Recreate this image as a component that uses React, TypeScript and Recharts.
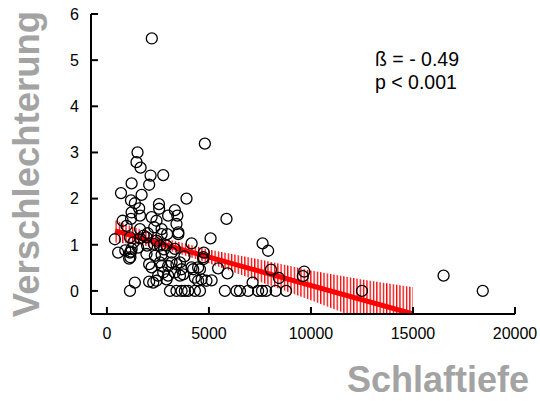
import { ComposedChart, XAxis, YAxis, Scatter, Line, Area } from "recharts";

// Schlaftiefe (x) und Verschlechterung (y), je ein Kreis
const sleepDepth = [
  2200, 4800, 1500, 1450, 1650, 2140, 2760, 2070, 1210, 690, 1700, 3900, 1180, 1370, 1580, 2550,
  2560, 1210, 1620, 2190, 1180, 3330, 3450, 3000, 5860, 770, 960, 2430, 2320, 3410, 2680, 1620,
  3500, 2950, 390, 1130, 1620, 1940, 4150, 5080, 550, 1130, 1210, 1150, 1530, 1970, 2430, 2600,
  2920, 1940, 2350, 2680, 3170, 3330, 2070, 2190, 2680, 3000, 3410, 3660, 4720, 4750, 4470, 4150,
  5450, 5910, 2510, 3000, 3580, 3740, 4310, 4470, 2430, 2070, 2270, 5130, 4880, 1370, 1130, 3090,
  3410, 3660, 3980, 4310, 4560, 5780, 6350, 6520, 6920, 7410, 7600, 7800, 8270, 8780, 7630, 7900,
  8040, 8430, 9670, 9600, 7140, 12500, 18420, 16500, 2680, 3500, 4720, 2600, 3170, 3580, 2760, 3330,
  4230, 4560, 4640, 2920, 3820, 1090, 1180, 1800, 2000, 2300, 2800, 1300, 900, 3800,
];
const worsening = [
  5.47, 3.19, 3.0, 2.79, 2.67, 2.5, 2.51, 2.3, 2.33, 2.12, 2.08, 2.0, 1.96, 1.9, 1.79, 1.88,
  1.78, 1.7, 1.63, 1.6, 1.56, 1.75, 1.63, 1.63, 1.56, 1.52, 1.41, 1.52, 1.38, 1.45, 1.34, 1.34,
  1.27, 1.23, 1.12, 1.16, 1.14, 1.16, 1.03, 1.14, 0.83, 0.83, 0.91, 0.73, 0.94, 0.98, 1.09, 0.98,
  0.98, 0.8, 0.76, 0.78, 0.83, 0.91, 0.58, 0.51, 0.54, 0.54, 0.58, 0.47, 0.73, 0.83, 0.51, 0.51,
  0.49, 0.38, 0.33, 0.33, 0.33, 0.36, 0.29, 0.22, 0.22, 0.2, 0.18, 0.23, 0.22, 0.18, 0, 0,
  0, 0, 0, 0, 0, 0, 0, 0, 0, 0, 0, 0, 0, 0, 1.03, 0.87,
  0.46, 0.28, 0.42, 0.32, 0.18, 0, 0, 0.33, 1.23, 1.23, 0.69, 0.62, 0.62, 0.62, 0.4, 0.4,
  0.47, 0.47, 0.25, 0.25, 0, 0.7, 0.85, 1.2, 1.25, 1.02, 0.9, 1.05, 0.88, 0.75,
];

// Regressionsgerade (Endpunkte) und Konfidenzband
const fitX = [400, 15000];
const fitY = [1.3, -0.5];
const bandX = [400, 1500, 3000, 5000, 7500, 10000, 12500, 15000];
const bandLow = [1.05, 1.01, 0.88, 0.6, 0.2, -0.2, -0.63, -1.08];
const bandHigh = [1.53, 1.35, 1.12, 0.9, 0.68, 0.44, 0.25, 0.08];

const xTicks = [0, 5000, 10000, 15000, 20000];
const yTicks = [0, 1, 2, 3, 4, 5, 6];

const points = sleepDepth.map((x, i) => ({ x, y: worsening[i] }));
const rows = bandX.map((x, i) => {
  const k = fitX.indexOf(x);
  return { x, band: [bandLow[i], bandHigh[i]], fit: k >= 0 ? fitY[k] : null };
});

const FONT = "'Liberation Sans', Arial, sans-serif";

const YTick = (props: any) => {
  const { x, y, payload } = props;
  const ax = x + 12;
  return (
    <g>
      <line x1={ax} x2={ax + 7} y1={y} y2={y} stroke="#000" strokeWidth={2} />
      <text x={x} y={y} dy="0.36em" textAnchor="end" fontSize={16} fontFamily={FONT} fill="#000">
        {payload.value}
      </text>
    </g>
  );
};

const XTick = (props: any) => {
  const { x, y, payload } = props;
  const ay = y - 12;
  return (
    <g>
      <line x1={x} x2={x} y1={ay} y2={ay - 7} stroke="#000" strokeWidth={2} />
      <text x={x} y={y} dy="0.8em" textAnchor="middle" fontSize={16} fontFamily={FONT} fill="#000">
        {payload.value}
      </text>
    </g>
  );
};

const Ring = (props: any) => (
  <circle cx={props.cx} cy={props.cy} r={5.5} fill="none" stroke="#000" strokeWidth={1.3} />
);

export default function App() {
  return (
    <div style={{ position: "absolute", left: 0, top: 0, width: 540, height: 401, background: "#fff" }}>
      <ComposedChart
        width={540}
        height={401}
        data={rows}
        margin={{ top: 14, right: 25, bottom: 57, left: 41 }}
      >
        <defs>
          <pattern id="hatch" width="3.3" height="10" patternUnits="userSpaceOnUse">
            <rect x="0" y="0" width="1.3" height="10" fill="#ff0000" />
          </pattern>
        </defs>
        <XAxis
          type="number"
          dataKey="x"
          domain={[-780, 20000]}
          ticks={xTicks}
          interval={0}
          height={30}
          tickLine={false}
          tickSize={0}
          tickMargin={12}
          axisLine={{ stroke: "#000", strokeWidth: 2 }}
          tick={<XTick />}
          allowDataOverflow
        />
        <YAxis
          type="number"
          dataKey="y"
          domain={[-0.5, 6]}
          ticks={yTicks}
          interval={0}
          width={50}
          tickLine={false}
          tickSize={0}
          tickMargin={12}
          axisLine={{ stroke: "#000", strokeWidth: 2 }}
          tick={<YTick />}
          allowDataOverflow
        />
        <Area
          dataKey="band"
          type="linear"
          stroke="none"
          fill="url(#hatch)"
          fillOpacity={1}
          isAnimationActive={false}
        />
        <Line
          dataKey="fit"
          type="linear"
          stroke="#ff0000"
          strokeWidth={5}
          dot={false}
          connectNulls
          isAnimationActive={false}
        />
        <Scatter data={points} dataKey="y" shape={<Ring />} isAnimationActive={false} />
      </ComposedChart>
      <svg
        width={540}
        height={401}
        style={{ position: "absolute", left: 0, top: 0, pointerEvents: "none" }}
      >
        <text
          transform="translate(39,164) rotate(-90)"
          textAnchor="middle"
          fontSize={36.5}
          fontWeight="bold"
          fontFamily={FONT}
          fill="#a3a3a3"
        >
          Verschlechterung
        </text>
        <text x={529} y={392} textAnchor="end" fontSize={36} fontWeight="bold" fontFamily={FONT} fill="#a3a3a3">
          Schlaftiefe
        </text>
        <text x={375} y={66} fontSize={19.5} fontFamily={FONT} fill="#000">
          ß = - 0.49
        </text>
        <text x={375} y={89} fontSize={19.5} fontFamily={FONT} fill="#000">
          p &lt; 0.001
        </text>
      </svg>
    </div>
  );
}
